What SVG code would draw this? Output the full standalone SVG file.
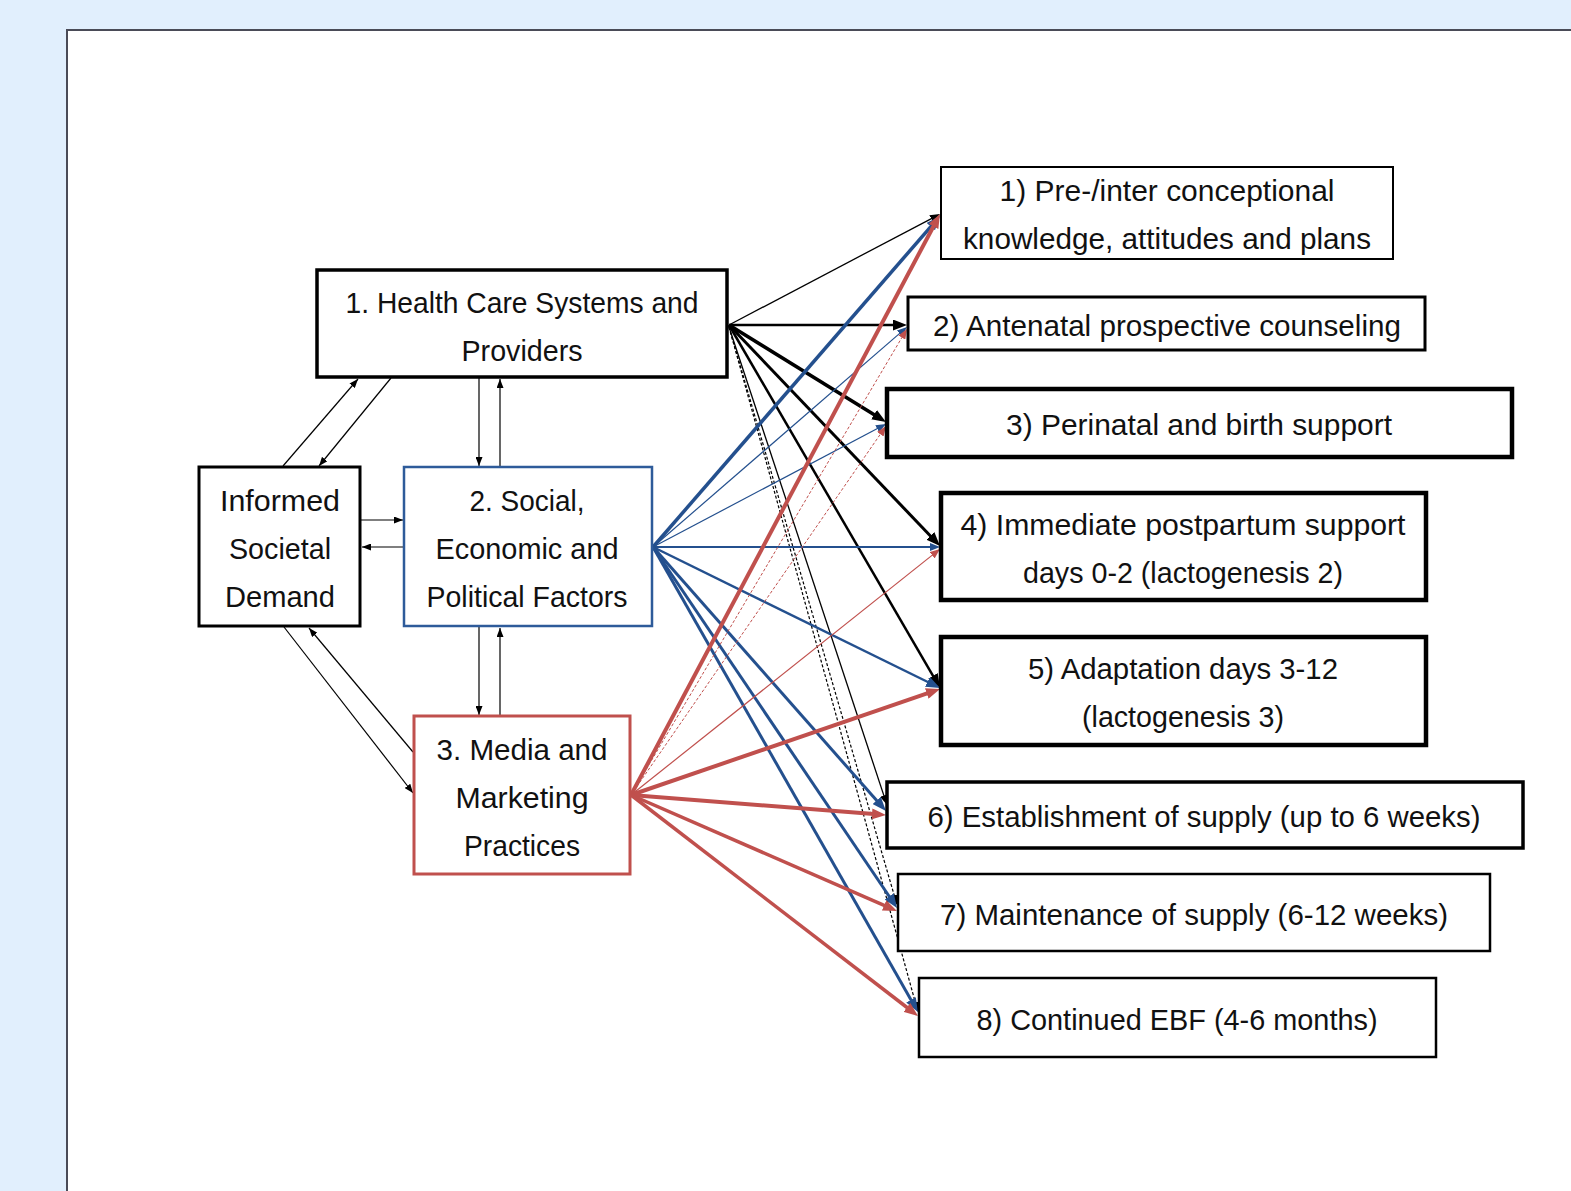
<svg xmlns="http://www.w3.org/2000/svg" width="1571" height="1191" viewBox="0 0 1571 1191">
<style>
.bg{fill:#E1EFFD}
.panel{fill:#fff;stroke:#4A4B57;stroke-width:2}
.box{fill:#fff;stroke:#000}
text{font-family:"Liberation Sans",Arial,sans-serif;font-size:30px;fill:#111;text-anchor:middle}
.k{stroke:#000;fill:none}
.b{stroke:#24508E;fill:none}
.r{stroke:#C0504D;fill:none}
.d{stroke-dasharray:3 2}
</style>
<defs>
<marker id="mt" markerUnits="userSpaceOnUse" markerWidth="9" markerHeight="7" refX="9" refY="3.5" orient="auto"><path d="M0,0 L9,3.5 L0,7 z" fill="#000"/></marker>
<marker id="ks" markerUnits="userSpaceOnUse" markerWidth="10" markerHeight="8" refX="3" refY="4" orient="auto"><path d="M0,0 L10,4 L0,8 z" fill="#000"/></marker>
<marker id="kl" markerUnits="userSpaceOnUse" markerWidth="14" markerHeight="11" refX="5" refY="5.5" orient="auto"><path d="M0,0 L14,5.5 L0,11 z" fill="#000"/></marker>
<marker id="bs" markerUnits="userSpaceOnUse" markerWidth="10" markerHeight="8" refX="3" refY="4" orient="auto"><path d="M0,0 L10,4 L0,8 z" fill="#24508E"/></marker>
<marker id="bl" markerUnits="userSpaceOnUse" markerWidth="14" markerHeight="11" refX="5" refY="5.5" orient="auto"><path d="M0,0 L14,5.5 L0,11 z" fill="#24508E"/></marker>
<marker id="rs" markerUnits="userSpaceOnUse" markerWidth="10" markerHeight="8" refX="3" refY="4" orient="auto"><path d="M0,0 L10,4 L0,8 z" fill="#C0504D"/></marker>
<marker id="rl" markerUnits="userSpaceOnUse" markerWidth="14" markerHeight="11" refX="5" refY="5.5" orient="auto"><path d="M0,0 L14,5.5 L0,11 z" fill="#C0504D"/></marker>
</defs>
<rect class="bg" x="0" y="0" width="1571" height="1191"/>
<rect class="panel" x="67" y="30" width="1520" height="1180"/>

<g id="connectors">
  <g id="left-links" class="k" stroke-width="1.2">
    <line x1="283" y1="466" x2="358" y2="379" marker-end="url(#mt)"/>
    <line x1="391" y1="378" x2="319" y2="466" marker-end="url(#mt)"/>
    <line x1="479" y1="378" x2="479" y2="466" marker-end="url(#mt)"/>
    <line x1="500" y1="466" x2="500" y2="379" marker-end="url(#mt)"/>
    <line x1="361" y1="520" x2="403" y2="520" marker-end="url(#mt)"/>
    <line x1="403" y1="547" x2="362" y2="547" marker-end="url(#mt)"/>
    <line x1="479" y1="627" x2="479" y2="715" marker-end="url(#mt)"/>
    <line x1="500" y1="715" x2="500" y2="628" marker-end="url(#mt)"/>
    <line x1="284" y1="627" x2="413" y2="793" marker-end="url(#mt)"/>
    <line x1="413" y1="752" x2="309" y2="628" marker-end="url(#mt)"/>
  </g>
  <g id="from-health">
    <line class="k" stroke-width="1.3" x1="729" y1="325" x2="933.8" y2="217.3" marker-end="url(#ks)"/>
    <line class="k" stroke-width="2.5" x1="729" y1="325" x2="898" y2="325" marker-end="url(#kl)"/>
    <line class="k" stroke-width="3.5" x1="729" y1="325" x2="878.3" y2="417.3" marker-end="url(#kl)"/>
    <line class="k" stroke-width="3" x1="729" y1="325" x2="933.8" y2="539.5" marker-end="url(#kl)"/>
    <line class="k" stroke-width="2.5" x1="729" y1="325" x2="935.5" y2="680.2" marker-end="url(#kl)"/>
    <line class="k" stroke-width="1.3" x1="729" y1="327" x2="884.8" y2="798.4" marker-end="url(#ks)"/>
    <line class="k d" stroke-width="1.2" x1="729" y1="327" x2="895.1" y2="898.3" marker-end="url(#ks)"/>
    <line class="k d" stroke-width="1.2" x1="729" y1="327" x2="916.1" y2="1005.2" marker-end="url(#ks)"/>
  </g>
  <g id="from-social">
    <line class="b" stroke-width="3.5" x1="653" y1="547" x2="934.1" y2="222.8" marker-end="url(#bl)"/>
    <line class="b" stroke-width="1.2" x1="653" y1="547" x2="901.7" y2="331.6" marker-end="url(#bs)"/>
    <line class="b" stroke-width="1.2" x1="653" y1="547" x2="879.8" y2="427.3" marker-end="url(#bs)"/>
    <line class="b" stroke-width="1.8" x1="653" y1="547" x2="933" y2="547" marker-end="url(#bs)"/>
    <line class="b" stroke-width="2.5" x1="653" y1="547" x2="931.9" y2="684" marker-end="url(#bl)"/>
    <line class="b" stroke-width="3" x1="653" y1="547" x2="880" y2="804.2" marker-end="url(#bl)"/>
    <line class="b" stroke-width="3" x1="653" y1="547" x2="892" y2="900.5" marker-end="url(#bl)"/>
    <line class="b" stroke-width="3" x1="653" y1="547" x2="913.5" y2="1004.2" marker-end="url(#bl)"/>
  </g>
  <g id="from-media">
    <line class="r" stroke-width="4" x1="631" y1="795" x2="935.8" y2="222" marker-end="url(#rl)"/>
    <line class="r d" stroke-width="1" x1="631" y1="795" x2="903.4" y2="335" marker-end="url(#rs)"/>
    <line class="r d" stroke-width="1" x1="631" y1="795" x2="882" y2="431.8" marker-end="url(#rs)"/>
    <line class="r" stroke-width="1.2" x1="631" y1="795" x2="934.5" y2="553.4" marker-end="url(#rs)"/>
    <line class="r" stroke-width="4" x1="631" y1="795" x2="931.5" y2="691.9" marker-end="url(#rl)"/>
    <line class="r" stroke-width="4" x1="631" y1="795" x2="877" y2="814.3" marker-end="url(#rl)"/>
    <line class="r" stroke-width="3.5" x1="631" y1="795" x2="888.7" y2="907.4" marker-end="url(#rl)"/>
    <line class="r" stroke-width="3.5" x1="631" y1="795" x2="910.9" y2="1010.5" marker-end="url(#rl)"/>
  </g>
</g>

<g id="node-health">
  <rect class="box" stroke-width="3.5" x="317" y="270" width="410" height="107"/>
  <text x="522" y="313" textLength="353" lengthAdjust="spacingAndGlyphs">1. Health Care Systems and</text>
  <text x="522" y="361" textLength="121" lengthAdjust="spacingAndGlyphs">Providers</text>
</g>
<g id="node-demand">
  <rect class="box" stroke-width="3" x="199" y="467" width="161" height="159"/>
  <text x="280" y="511" textLength="120" lengthAdjust="spacingAndGlyphs">Informed</text>
  <text x="280" y="559" textLength="102" lengthAdjust="spacingAndGlyphs">Societal</text>
  <text x="280" y="607" textLength="110" lengthAdjust="spacingAndGlyphs">Demand</text>
</g>
<g id="node-social">
  <rect class="box" style="stroke:#2E5B9A" stroke-width="2.5" x="404" y="467" width="248" height="159"/>
  <text x="527" y="511" textLength="115" lengthAdjust="spacingAndGlyphs">2. Social,</text>
  <text x="527" y="559" textLength="183" lengthAdjust="spacingAndGlyphs">Economic and</text>
  <text x="527" y="607" textLength="201" lengthAdjust="spacingAndGlyphs">Political Factors</text>
</g>
<g id="node-media">
  <rect class="box" style="stroke:#C0504D" stroke-width="3" x="414" y="716" width="216" height="158"/>
  <text x="522" y="760" textLength="171" lengthAdjust="spacingAndGlyphs">3. Media and</text>
  <text x="522" y="808" textLength="133" lengthAdjust="spacingAndGlyphs">Marketing</text>
  <text x="522" y="856" textLength="116" lengthAdjust="spacingAndGlyphs">Practices</text>
</g>

<g id="out-1">
  <rect class="box" stroke-width="2" x="941" y="167" width="452" height="92"/>
  <text x="1167" y="201" textLength="335" lengthAdjust="spacingAndGlyphs">1) Pre-/inter conceptional</text>
  <text x="1167" y="249" textLength="408" lengthAdjust="spacingAndGlyphs">knowledge, attitudes and plans</text>
</g>
<g id="out-2">
  <rect class="box" stroke-width="3" x="908" y="297" width="517" height="53"/>
  <text x="1167" y="336" textLength="468" lengthAdjust="spacingAndGlyphs">2) Antenatal prospective counseling</text>
</g>
<g id="out-3">
  <rect class="box" stroke-width="4.5" x="887" y="389" width="625" height="68"/>
  <text x="1199" y="435" textLength="386" lengthAdjust="spacingAndGlyphs">3) Perinatal and birth support</text>
</g>
<g id="out-4">
  <rect class="box" stroke-width="4.5" x="941" y="493" width="485" height="107"/>
  <text x="1183" y="535" textLength="445" lengthAdjust="spacingAndGlyphs">4) Immediate postpartum support</text>
  <text x="1183" y="583" textLength="320" lengthAdjust="spacingAndGlyphs">days 0-2 (lactogenesis 2)</text>
</g>
<g id="out-5">
  <rect class="box" stroke-width="4.5" x="941" y="637" width="485" height="108"/>
  <text x="1183" y="679" textLength="310" lengthAdjust="spacingAndGlyphs">5) Adaptation days 3-12</text>
  <text x="1183" y="727" textLength="202" lengthAdjust="spacingAndGlyphs">(lactogenesis 3)</text>
</g>
<g id="out-6">
  <rect class="box" stroke-width="3.5" x="887" y="782" width="636" height="66"/>
  <text x="1204" y="827" textLength="553" lengthAdjust="spacingAndGlyphs">6) Establishment of supply (up to 6 weeks)</text>
</g>
<g id="out-7">
  <rect class="box" stroke-width="2.5" x="898" y="874" width="592" height="77"/>
  <text x="1194" y="925" textLength="508" lengthAdjust="spacingAndGlyphs">7) Maintenance of supply (6-12 weeks)</text>
</g>
<g id="out-8">
  <rect class="box" stroke-width="2.5" x="919" y="978" width="517" height="79"/>
  <text x="1177" y="1030" textLength="401" lengthAdjust="spacingAndGlyphs">8) Continued EBF (4-6 months)</text>
</g>
</svg>
